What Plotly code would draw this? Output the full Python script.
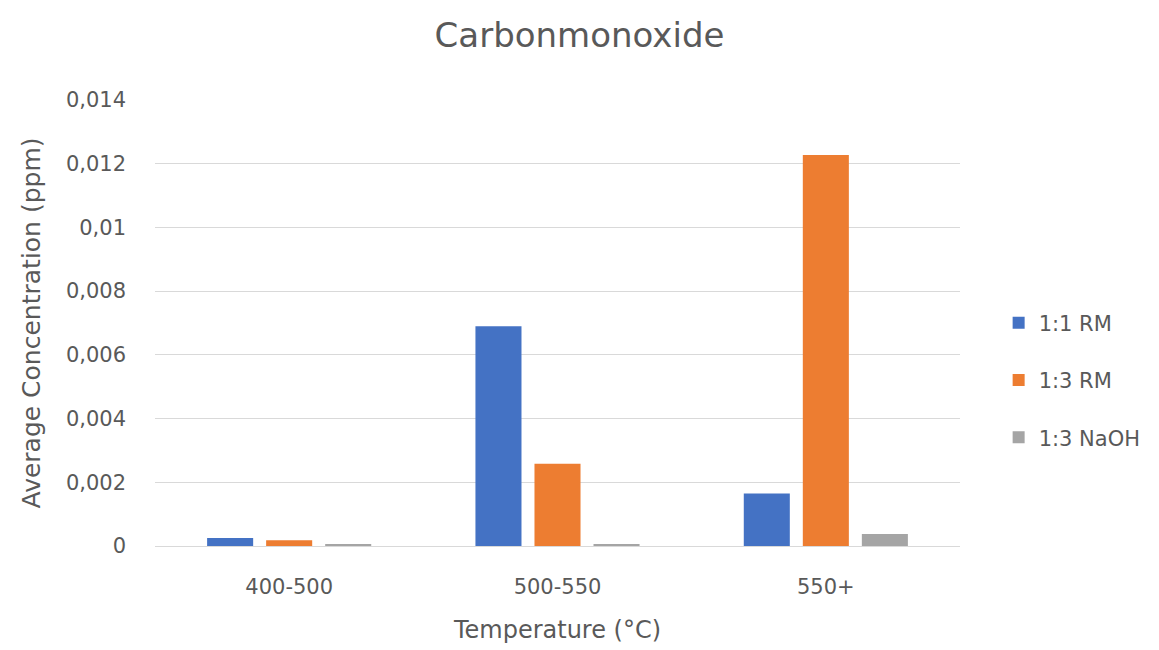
import plotly.graph_objects as go

categories = ["400-500", "500-550", "550+"]
rm_1_1 = [0.00025, 0.0069, 0.00165]
rm_1_3 = [0.00018, 0.00258, 0.01227]
naoh_1_3 = [0.00006, 0.00006, 0.00038]

series = [
    ("1:1 RM", rm_1_1, "#4472C4"),
    ("1:3 RM", rm_1_3, "#ED7D31"),
    ("1:3 NaOH", naoh_1_3, "#A5A5A5"),
]

fig = go.Figure()
for name, vals, color in series:
    fig.add_trace(go.Bar(
        x=categories, y=vals, name=name, legendgroup=name,
        marker=dict(color=color, line=dict(width=0)),
    ))

font_family = "DejaVu Sans, Verdana, sans-serif"
fig.update_layout(
    width=1159, height=650,
    paper_bgcolor="white", plot_bgcolor="white",
    separators=", ",
    title=dict(text="Carbonmonoxide", x=0.5, xanchor="center", y=0.946, yanchor="middle",
               font=dict(family=font_family, size=34, color="#595959")),
    margin=dict(l=155, r=199, t=100, b=104),
    barmode="group", bargap=0.34, bargroupgap=0.22,
    font=dict(family=font_family, color="#595959"),
    xaxis=dict(
        title=dict(text="Temperature (°C)", font=dict(size=24, color="#595959"), standoff=22),
        tickfont=dict(size=21, color="#595959"),
        showline=True, linecolor="#d9d9d9", linewidth=1,
        ticks="", showgrid=False, ticklabelstandoff=22,
    ),
    yaxis=dict(
        title=dict(text="Average Concentration (ppm)", font=dict(size=25, color="#595959"), standoff=18),
        tickfont=dict(size=21, color="#595959"),
        range=[0, 0.014], dtick=0.002,
        showgrid=True, gridcolor="#d9d9d9", gridwidth=1,
        zeroline=False, ticks="", ticklabelstandoff=28,
    ),
    legend=dict(
        x=1.048, xanchor="left", y=0.372, yanchor="middle",
        font=dict(size=21, color="#595959"),
        tracegroupgap=27, bgcolor="rgba(0,0,0,0)",
    ),
)

fig.write_html("out.html")
